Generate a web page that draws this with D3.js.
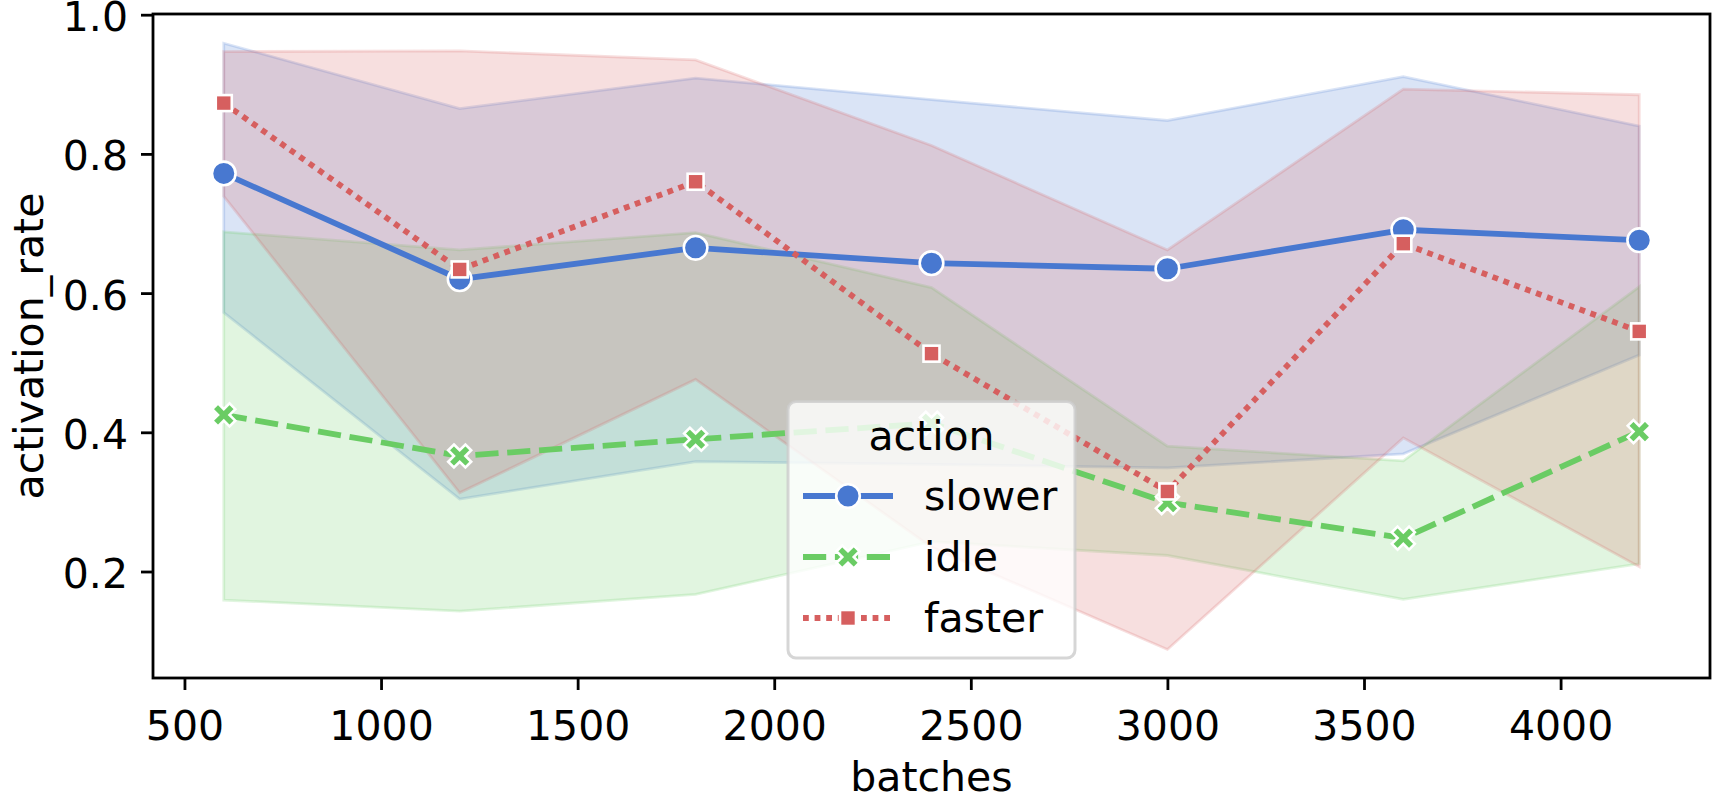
<!DOCTYPE html>
<html>
<head>
<meta charset="utf-8">
<script src="https://cdn.jsdelivr.net/npm/d3@7"></script>
<style>
  html, body { margin: 0; padding: 0; background: #fff; }
  svg { display: block; font-family: 'DejaVu Sans', sans-serif; }
</style>
</head>
<body>
<div id="chart"></div>
<script>
/* ── data ──────────────────────────────────────────────────────── */
const batches     = [600, 1200, 1800, 2400, 3000, 3600, 4200];

const slowerMean  = [0.772, 0.620, 0.665, 0.643, 0.635, 0.691, 0.676];
const slowerLo    = [0.572, 0.304, 0.358, 0.354, 0.349, 0.369, 0.511];
const slowerHi    = [0.959, 0.865, 0.909, 0.878, 0.848, 0.911, 0.840];

const idleMean    = [0.425, 0.366, 0.390, 0.413, 0.299, 0.248, 0.401];
const idleLo      = [0.159, 0.143, 0.167, 0.243, 0.223, 0.160, 0.211];
const idleHi      = [0.688, 0.662, 0.687, 0.608, 0.380, 0.359, 0.609];

const fasterMean  = [0.873, 0.634, 0.760, 0.513, 0.315, 0.671, 0.545];
const fasterLo    = [0.739, 0.313, 0.476, 0.235, 0.088, 0.392, 0.207];
const fasterHi    = [0.947, 0.948, 0.935, 0.812, 0.662, 0.893, 0.885];

const xTicks = [500, 1000, 1500, 2000, 2500, 3000, 3500, 4000];
const yTicks = [0.2, 0.4, 0.6, 0.8, 1.0];

const seriesNames = ['slower', 'idle', 'faster'];

/* ── setup ─────────────────────────────────────────────────────── */
const W = 1712, H = 798;
const m = { l: 153, r: 1710, t: 14, b: 678 };
const FS = 41;
const LW = 5.8;

const series = [
  { name: 'slower', color: '#4878d0', mean: slowerMean, lo: slowerLo, hi: slowerHi, marker: 'o', dash: null },
  { name: 'idle',   color: '#6acc64', mean: idleMean,   lo: idleLo,   hi: idleHi,   marker: 'X', dash: [4 * LW, 1.5 * LW] },
  { name: 'faster', color: '#d65f5f', mean: fasterMean, lo: fasterLo, hi: fasterHi, marker: 's', dash: [LW, LW] },
];

const x = d3.scaleLinear().domain([420, 4380]).range([m.l, m.r]);
const y = d3.scaleLinear().domain([0.047, 1.001]).range([m.b, m.t]);

const svg = d3.select('#chart').append('svg')
  .attr('width', W).attr('height', H).attr('viewBox', `0 0 ${W} ${H}`);

svg.append('defs').append('clipPath').attr('id', 'plot-clip')
  .append('rect').attr('x', m.l).attr('y', m.t)
  .attr('width', m.r - m.l).attr('height', m.b - m.t);

const plot = svg.append('g').attr('clip-path', 'url(#plot-clip)');

/* ── confidence bands (drawn first, like matplotlib collections) ── */
const area = d3.area()
  .x(d => x(d.b)).y0(d => y(d.lo)).y1(d => y(d.hi));

series.forEach(s => {
  const rows = batches.map((b, i) => ({ b, lo: s.lo[i], hi: s.hi[i] }));
  plot.append('path')
    .attr('d', area(rows))
    .attr('fill', s.color).attr('fill-opacity', 0.2)
    .attr('stroke', s.color).attr('stroke-opacity', 0.2)
    .attr('stroke-width', 2.8).attr('stroke-linejoin', 'miter');
});

/* ── markers ───────────────────────────────────────────────────── */
function xPath(cx, cy, s) {
  const pts = [[-0.25,-0.5],[0,-0.25],[0.25,-0.5],[0.5,-0.25],[0.25,0],[0.5,0.25],
               [0.25,0.5],[0,0.25],[-0.25,0.5],[-0.5,0.25],[-0.25,0],[-0.5,-0.25]];
  const p = d3.path();
  pts.forEach(([px, py], i) => {
    if (i === 0) p.moveTo(cx + px * s, cy + py * s); else p.lineTo(cx + px * s, cy + py * s);
  });
  p.closePath();
  return p.toString();
}

function drawMarker(g, kind, cx, cy, color) {
  if (kind === 'o') {
    g.append('circle').attr('cx', cx).attr('cy', cy).attr('r', 11.8)
      .attr('fill', color).attr('stroke', '#fff').attr('stroke-width', 2.6);
  } else if (kind === 's') {
    const a = 16;
    g.append('rect').attr('x', cx - a / 2).attr('y', cy - a / 2)
      .attr('width', a).attr('height', a)
      .attr('fill', color).attr('stroke', '#fff').attr('stroke-width', 2.6);
  } else {
    g.append('path').attr('d', xPath(cx, cy, 23))
      .attr('fill', color).attr('stroke', '#fff').attr('stroke-width', 2.6)
      .attr('stroke-linejoin', 'miter');
  }
}

/* ── mean lines ────────────────────────────────────────────────── */
const line = d3.line().x(d => x(d.b)).y(d => y(d.v));

series.forEach(s => {
  const rows = batches.map((b, i) => ({ b, v: s.mean[i] }));
  const g = plot.append('g');
  g.append('path')
    .attr('d', line(rows))
    .attr('fill', 'none').attr('stroke', s.color).attr('stroke-width', LW)
    .attr('stroke-linejoin', 'round')
    .attr('stroke-linecap', s.dash ? 'butt' : 'square')
    .attr('stroke-dasharray', s.dash ? s.dash.join(',') : null);
  rows.forEach(r => drawMarker(g, s.marker, x(r.b), y(r.v), s.color));
});

/* ── axes ──────────────────────────────────────────────────────── */
const xAxis = svg.append('g').attr('transform', `translate(0,${m.b})`)
  .call(d3.axisBottom(x).tickValues(xTicks).tickSize(12).tickFormat(d3.format('d')));
xAxis.select('.domain').remove();
xAxis.selectAll('.tick line').attr('stroke', '#000').attr('stroke-width', 2.8);
xAxis.selectAll('.tick text')
  .attr('y', 62).attr('dy', 0)
  .attr('font-family', 'DejaVu Sans, sans-serif').attr('font-size', FS).attr('fill', '#000');

const yAxis = svg.append('g').attr('transform', `translate(${m.l},0)`)
  .call(d3.axisLeft(y).tickValues(yTicks).tickSize(12).tickFormat(d3.format('.1f')));
yAxis.select('.domain').remove();
yAxis.selectAll('.tick line').attr('stroke', '#000').attr('stroke-width', 2.8);
yAxis.selectAll('.tick text')
  .attr('x', -25).attr('dy', 16)
  .attr('font-family', 'DejaVu Sans, sans-serif').attr('font-size', FS).attr('fill', '#000');

/* frame */
svg.append('rect')
  .attr('x', m.l).attr('y', m.t).attr('width', m.r - m.l).attr('height', m.b - m.t)
  .attr('fill', 'none').attr('stroke', '#000').attr('stroke-width', 2.8);

/* axis labels */
svg.append('text')
  .attr('x', (m.l + m.r) / 2).attr('y', 791)
  .attr('text-anchor', 'middle').attr('font-size', FS).attr('fill', '#000')
  .text('batches');
svg.append('text')
  .attr('transform', `translate(43,${(m.t + m.b) / 2}) rotate(-90)`)
  .attr('text-anchor', 'middle').attr('font-size', FS).attr('fill', '#000')
  .text('activation_rate');

/* ── legend ────────────────────────────────────────────────────── */
const leg = svg.append('g');
leg.append('rect')
  .attr('x', 788).attr('y', 401.5).attr('width', 287).attr('height', 256.5).attr('rx', 8)
  .attr('fill', '#fff').attr('fill-opacity', 0.8)
  .attr('stroke', '#cccccc').attr('stroke-opacity', 0.8).attr('stroke-width', 3);
leg.append('text')
  .attr('x', 931.5).attr('y', 450).attr('text-anchor', 'middle')
  .attr('font-size', FS).attr('fill', '#000').text('action');

const rowY = [496, 557, 618];
series.forEach((s, i) => {
  const g = leg.append('g');
  const cy = rowY[i];
  g.append('line')
    .attr('x1', 803).attr('x2', 893).attr('y1', cy).attr('y2', cy)
    .attr('stroke', s.color).attr('stroke-width', LW)
    .attr('stroke-dasharray', s.dash ? s.dash.join(',') : null);
  drawMarker(g, s.marker, 848, cy, s.color);
  g.append('text')
    .attr('x', 924).attr('y', cy + 14)
    .attr('font-size', FS).attr('fill', '#000').text(seriesNames[i]);
});
</script>
</body>
</html>
